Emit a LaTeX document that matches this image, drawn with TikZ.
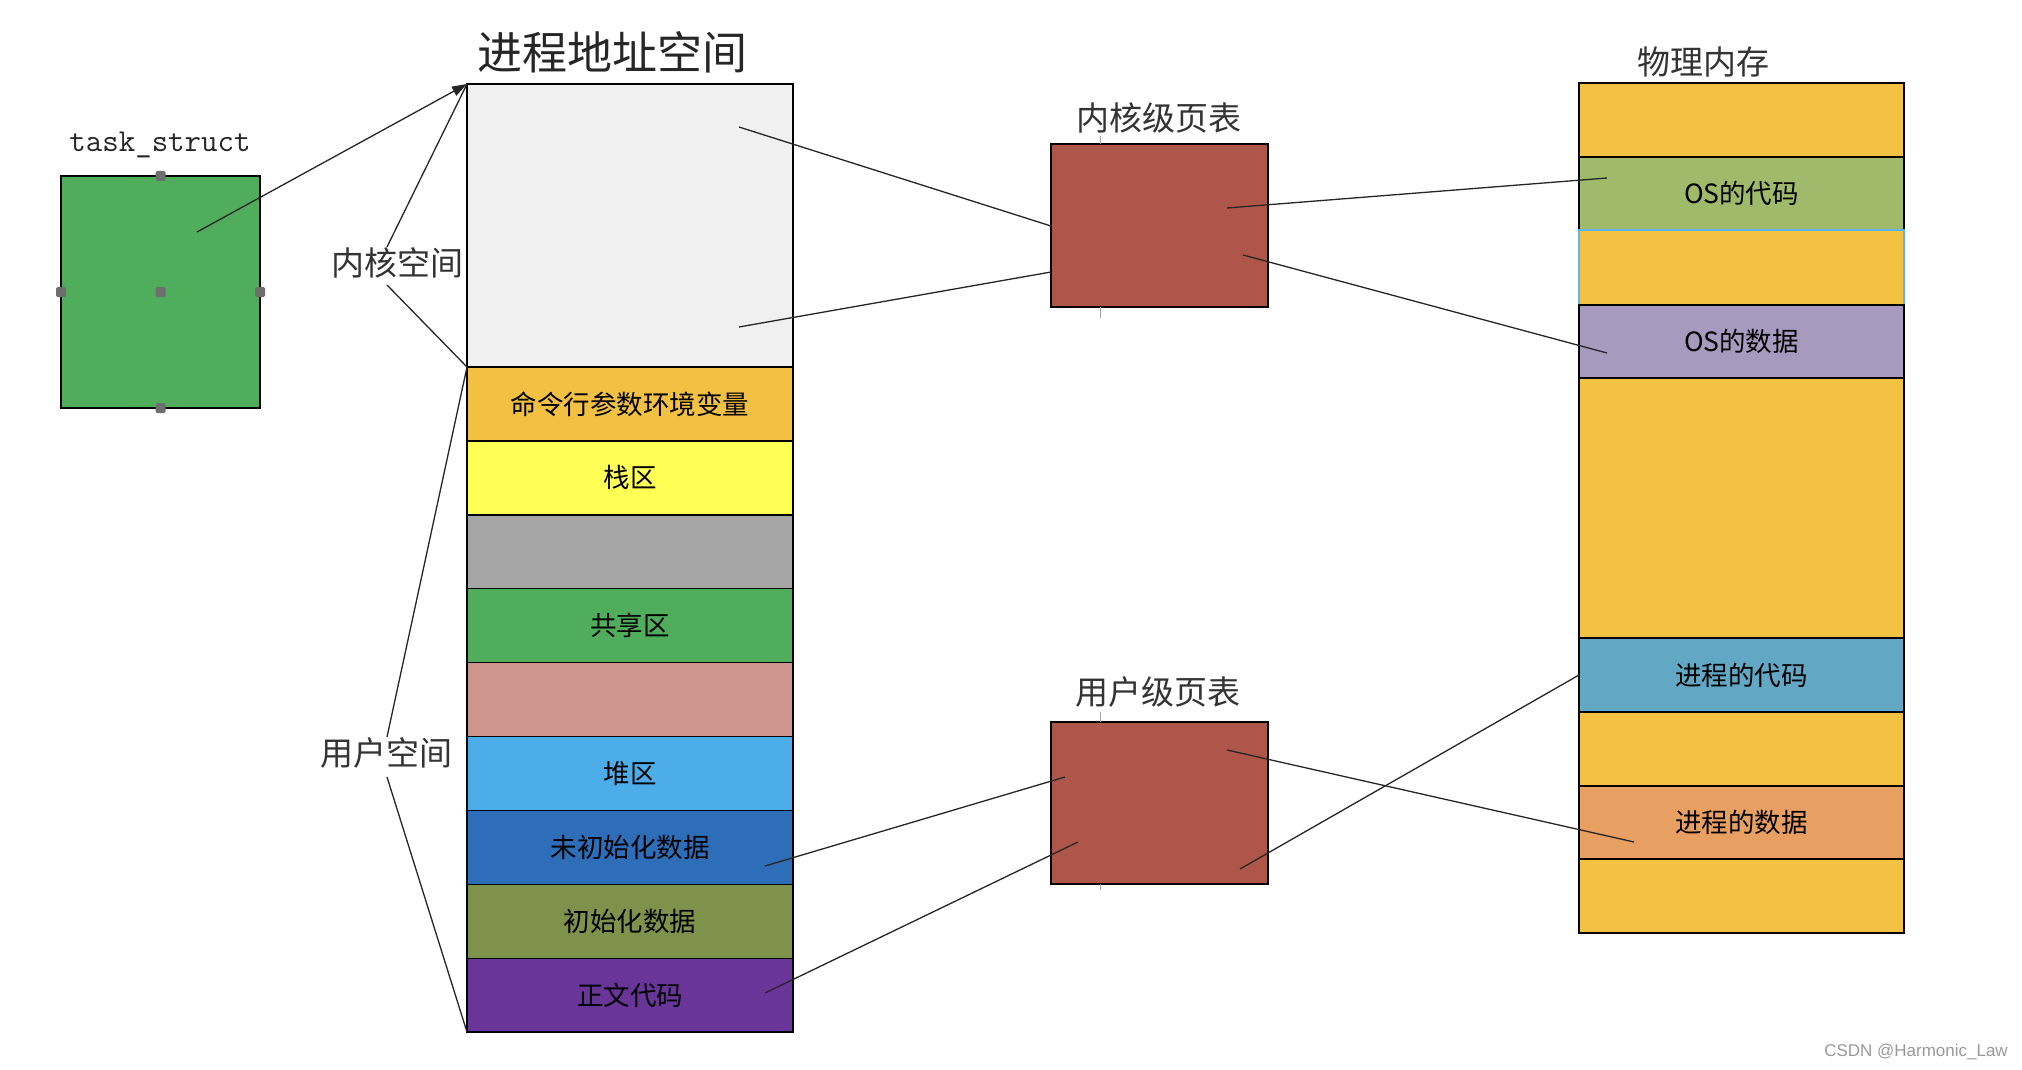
\documentclass[tikz,border=0pt]{standalone}
\usepackage{fontspec}
\newfontfamily\cjk{Noto Sans CJK SC}
\newfontfamily\wmfont{Liberation Sans}
\usetikzlibrary{arrows.meta}
\definecolor{kerncol}{HTML}{F0F0F0}
\definecolor{envcol}{HTML}{F2C043}
\definecolor{stackcol}{HTML}{FFFF55}
\definecolor{gapcol}{HTML}{A5A5A5}
\definecolor{sharecol}{HTML}{4FAD5B}
\definecolor{pinkcol}{HTML}{CE958F}
\definecolor{heapcol}{HTML}{4DADE8}
\definecolor{bsscol}{HTML}{2E6EB8}
\definecolor{datacol}{HTML}{7E924B}
\definecolor{textcol}{HTML}{693598}
\definecolor{ptcol}{HTML}{AF564A}
\definecolor{physcol}{HTML}{F3C242}
\definecolor{oscodecol}{HTML}{A0BA6B}
\definecolor{osdatacol}{HTML}{A69ABF}
\definecolor{pcodecol}{HTML}{62A8C4}
\definecolor{pdatacol}{HTML}{E8A062}
\definecolor{bluebord}{HTML}{5BB5E8}
\definecolor{handlecol}{HTML}{6E6E6E}
\begin{document}
\begin{tikzpicture}[x=1pt,y=-1pt,
  seg/.style={draw=black, line width=1.4pt, minimum width=326pt, minimum height=73.9pt,
    inner sep=0pt, outer sep=0pt, font=\cjk\fontsize{26.5}{30}\selectfont},
  pseg/.style={seg, minimum width=325pt},
  ptbox/.style={draw=black, line width=1.4pt, fill=ptcol, minimum width=217pt,
    minimum height=163pt, inner sep=0pt, outer sep=0pt},
  link/.style={line width=1.3pt, draw=black!85},
  lbl/.style={font=\cjk\fontsize{33}{36}\selectfont, text=black!80, inner sep=0pt},
  handle/.style={fill=handlecol, minimum size=10pt, inner sep=0pt, rounded corners=1.5pt},
  tick/.style={draw=gray!70, line width=0.9pt}]
\useasboundingbox (0,0) rectangle (2022,1070);
\fill[white] (0,0) rectangle (2022,1070);

% task_struct
\node[font=\ttfamily\fontsize{32}{34}\selectfont, text=black!85, inner sep=0pt] (tslbl) at (160,145) {task\_struct};
\node[draw=black, line width=1.4pt, fill=sharecol, minimum width=199pt, minimum height=232pt,
  inner sep=0pt, outer sep=0pt] (ts) at (160.5,292) {};
\foreach \p in {north,west,center,east,south}
  \node[handle] (h-\p) at (ts.\p) {};

% process address space
\node[font=\cjk\fontsize{45}{48}\selectfont, text=black!85, inner sep=0pt] (astitle) at (612,52) {进程地址空间};
\node[seg, fill=kerncol, minimum height=283pt] (kern) at (630,225.5) {};
\node[seg, fill=envcol] (r1) at (630,403.95) {命令行参数环境变量};
\node[seg, fill=stackcol] (r2) at (630,477.85) {栈区};
\node[seg, fill=gapcol] (r3) at (630,551.75) {};
\node[seg, fill=sharecol] (r4) at (630,625.65) {共享区};
\node[seg, fill=pinkcol] (r5) at (630,699.55) {};
\node[seg, fill=heapcol] (r6) at (630,773.45) {堆区};
\node[seg, fill=bsscol] (r7) at (630,847.35) {未初始化数据};
\node[seg, fill=datacol] (r8) at (630,921.25) {初始化数据};
\node[seg, fill=textcol] (r9) at (630,995.15) {正文代码};

\node[lbl] (kl) at (397,263) {内核空间};
\node[lbl] (ul) at (386,753) {用户空间};

% page tables
\node[lbl] (kptlbl) at (1159,118) {内核级页表};
\node[ptbox] (kpt) at (1159.5,225.5) {};
\node[lbl] (uptlbl) at (1158,692) {用户级页表};
\node[ptbox, minimum height=162pt] (upt) at (1159.5,803) {};
\draw[tick] (1100,136) -- (1100,144);
\draw[tick] (1100,307) -- (1100,318);
\draw[tick] (1100,712) -- (1100,722);
\draw[tick] (1100,884) -- (1100,890);

% physical memory
\node[lbl] (pmlbl) at (1703,62) {物理内存};
\node[pseg, fill=physcol, minimum height=74pt] (p1) at (1741.5,120) {};
\node[pseg, fill=oscodecol, minimum height=73pt] (p2) at (1741.5,193.5) {OS的代码};
\node[pseg, draw=bluebord, fill=physcol, minimum height=75pt] (p3) at (1741.5,267.5) {};
\node[pseg, fill=osdatacol, minimum height=73pt] (p4) at (1741.5,341.5) {OS的数据};
\node[pseg, fill=physcol, minimum height=260pt] (p5) at (1741.5,508) {};
\node[pseg, fill=pcodecol, minimum height=74pt] (p6) at (1741.5,675) {进程的代码};
\node[pseg, fill=physcol, minimum height=74pt] (p7) at (1741.5,749) {};
\node[pseg, fill=pdatacol, minimum height=73pt] (p8) at (1741.5,822.5) {进程的数据};
\node[pseg, fill=physcol, minimum height=74pt] (p9) at (1741.5,896) {};

% connector end points
\coordinate (tsA) at (197,232);
\coordinate (klA) at (387,247);
\coordinate (klB) at (387,285);
\coordinate (ulA) at (387,737);
\coordinate (ulB) at (387,777);
\coordinate (kA) at (739,127);
\coordinate (kB) at (739,327);
\coordinate (kptA) at (1051,226);
\coordinate (kptB) at (1051,272);
\coordinate (kptC) at (1227,208);
\coordinate (kptD) at (1243,255);
\coordinate (p2A) at (1607,178);
\coordinate (p4A) at (1607,353);
\coordinate (r7A) at (765,866);
\coordinate (r9A) at (765,993);
\coordinate (uptA) at (1065,777);
\coordinate (uptB) at (1078,842);
\coordinate (uptC) at (1227,750);
\coordinate (uptD) at (1240,869);
\coordinate (p8A) at (1634,842);
\coordinate (p6A) at (p6.west);

% connectors
\draw[link, -{Triangle[length=15pt,width=10pt]}] (tsA) -- (kern.north west);
\draw[link] (klA) -- (kern.north west);
\draw[link] (klB) -- (kern.south west);
\draw[link] (ulA) -- (kern.south west);
\draw[link] (ulB) -- (r9.south west);
\draw[link] (kA) -- (kptA);
\draw[link] (kB) -- (kptB);
\draw[link] (kptC) -- (p2A);
\draw[link] (kptD) -- (p4A);
\draw[link] (r7A) -- (uptA);
\draw[link] (r9A) -- (uptB);
\draw[link] (uptC) -- (p8A);
\draw[link] (uptD) -- (p6A);

% watermark
\node[font=\wmfont\fontsize{17}{20}\selectfont, text=black!40, anchor=east, inner sep=0pt] (wm) at (2008,1052) {CSDN @Harmonic\_Law};
\end{tikzpicture}
\end{document}
